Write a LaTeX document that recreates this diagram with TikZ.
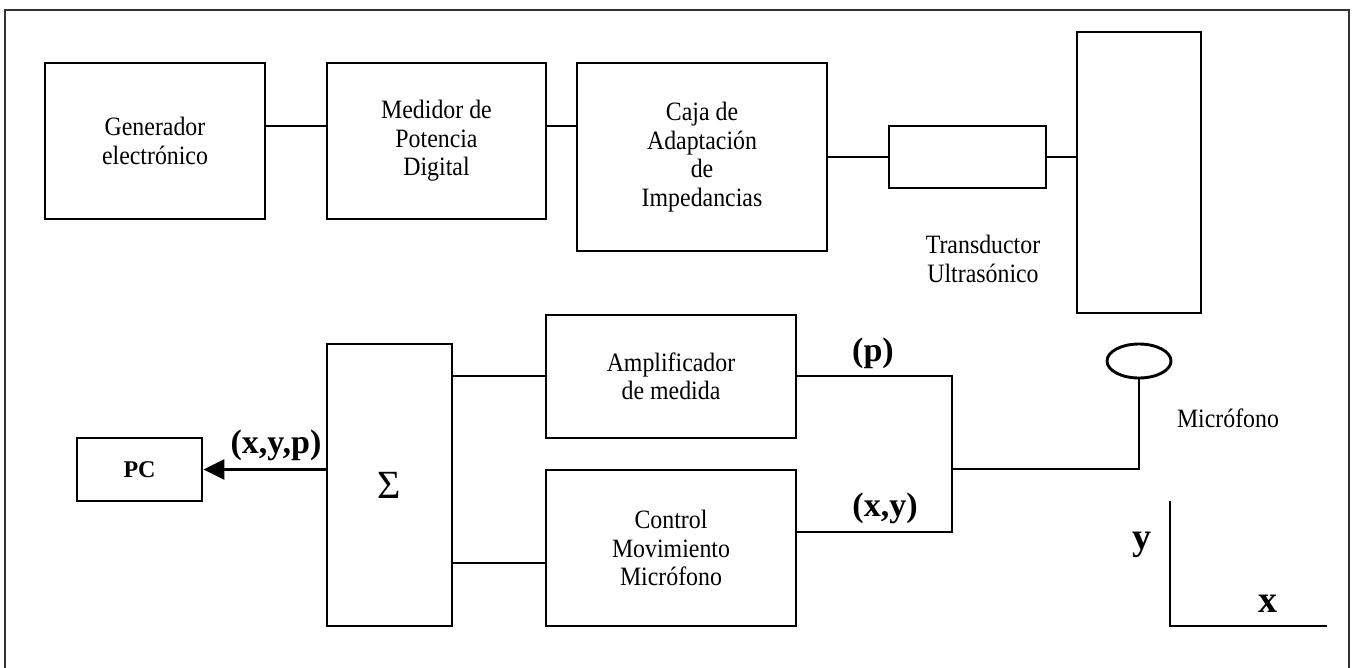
\documentclass[tikz,border=0pt]{standalone}
\usepackage{fontspec}
\setmainfont{Liberation Serif}
\newfontfamily\boxfont{Liberation Serif}[FakeStretch=0.9]
\usetikzlibrary{shapes.geometric,arrows.meta}
\begin{document}
\begin{tikzpicture}[x=1pt,y=-1pt,
  blk/.style={draw, line width=2.9pt, inner sep=0pt, align=center, font=\boxfont\fontsize{26.5}{28.5}\selectfont},
  wire/.style={line width=2.9pt},
  lbl/.style={font=\fontsize{34}{36}\selectfont\bfseries, inner sep=0pt},
  axl/.style={font=\fontsize{38}{40}\selectfont\bfseries, inner sep=0pt},
  txt/.style={align=center, font=\boxfont\fontsize{26.5}{28.5}\selectfont, inner sep=0pt},
  frame/.style={line width=1.6pt, draw=black!80}
]
\useasboundingbox (0,0) rectangle (1354,667);
\draw[frame] (5,670) -- (5,10) -- (1349,10) -- (1349,670);

% top row
\node[blk, minimum width=220pt, minimum height=156pt] (gen) at (155,141) {Generador\\electrónico};
\node[blk, minimum width=219pt, minimum height=156pt] (med) at (436.5,141) {Medidor de\\Potencia\\Digital};
\node[blk, minimum width=250pt, minimum height=188pt] (caja) at (702,157) {Caja de\\Adaptación\\de\\Impedancias};
\node[blk, minimum width=157pt, minimum height=62pt] (small) at (967.5,157) {};
\node[blk, minimum width=124pt, minimum height=281pt] (trans) at (1139,172.5) {};
\node[txt] (transl) at (983,259) {Transductor\\Ultrasónico};

\coordinate (r1) at (0,126);
\draw[wire] (gen.east |- r1) -- (med.west |- r1);
\draw[wire] (med.east |- r1) -- (caja.west |- r1);
\draw[wire] (caja.east |- small) -- (small.west);
\draw[wire] (small.east) -- (trans.west |- small);

% bottom part
\node[blk, minimum width=125pt, minimum height=282pt, font=\fontsize{40}{42}\selectfont] (sig) at (389.5,485) {Σ};
\node[blk, minimum width=250pt, minimum height=123pt] (amp) at (671,376.5) {Amplificador\\de medida};
\node[blk, minimum width=250pt, minimum height=156pt] (ctrl) at (671,548) {Control\\Movimiento\\Micrófono};
\node[blk, minimum width=125pt, minimum height=63pt, font=\fontsize{24}{28}\selectfont\bfseries] (pc) at (139.5,469.5) {PC};
\node[draw, ellipse, line width=2.9pt, inner sep=0pt, minimum width=64pt, minimum height=34pt] (mic) at (1139,361) {};
\node[txt] (micl) at (1228,418) {Micrófono};

\coordinate (ra) at (0,376);
\coordinate (rc) at (0,563);
\coordinate (rx) at (0,532);
\coordinate (jt) at (952,376);
\coordinate (jb) at (952,532);
\coordinate (jm) at (952,469);
\coordinate (mb) at (1139,469);

\draw[wire] (sig.east |- ra) -- (amp.west |- ra);
\draw[wire] (sig.east |- rc) -- (ctrl.west |- rc);
\draw[wire] (amp.east |- ra) -- (jt) -- (jb) -- (ctrl.east |- rx);
\draw[wire] (jm) -- (mb) -- (mic.south);
\draw[wire, -{Triangle[length=21pt,width=20pt]}] (sig.west |- pc) -- (pc.east);

\node[lbl] (lp) at (873,353) {(p)};
\node[lbl] (lxy) at (885,508) {(x,y)};
\node[lbl] (lxyp) at (276,445) {(x,y,p)};

% axes
\coordinate (ay) at (1170,501);
\coordinate (ao) at (1170,626);
\coordinate (ax) at (1327,626);
\draw[wire] (ay) -- (ao) -- (ax);
\node[axl] (ly) at (1142,545) {y};
\node[axl] (lx) at (1268,604) {x};
\end{tikzpicture}
\end{document}
